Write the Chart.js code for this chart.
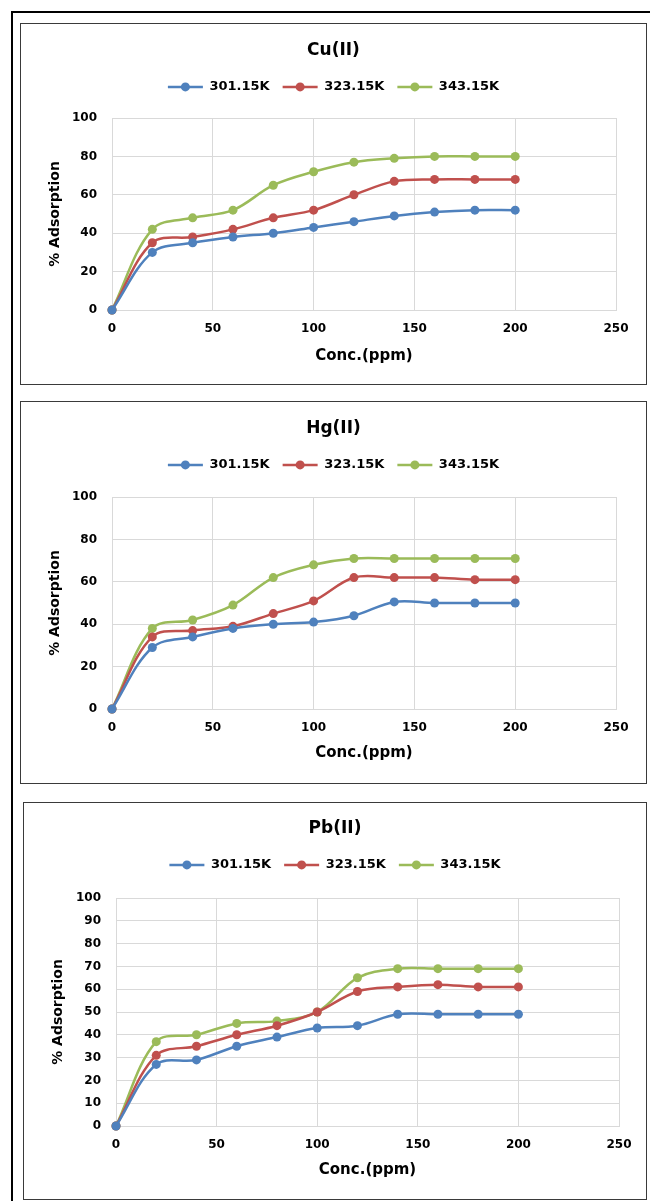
<!DOCTYPE html>
<html>
<head>
<meta charset="utf-8">
<script src="https://cdn.jsdelivr.net/npm/chart.js@4.4.1/dist/chart.umd.min.js"></script>
<style>
  html, body { margin: 0; padding: 0; background: #fff; }
  #page { position: relative; width: 650px; height: 1201px; overflow: hidden; background: #fff; }
  #outer { position: absolute; left: 11px; top: 11px; width: 700px; height: 1300px; border: 2px solid #000; box-sizing: border-box; }
  .frame { position: absolute; border: 1px solid #3a3a3a; box-sizing: border-box; background: #fff; }
  canvas { position: absolute; }
</style>
</head>
<body>
<div id="page">
  <div id="outer"></div>
  <div class="frame" style="left:20px; top:23px; width:627px; height:362px;"></div>
  <div class="frame" style="left:20px; top:401px; width:627px; height:383px;"></div>
  <div class="frame" style="left:23px; top:802px; width:624px; height:398px;"></div>
  <canvas id="cuChart" width="625" height="360" style="left:21px; top:24px;"></canvas>
  <canvas id="hgChart" width="625" height="381" style="left:21px; top:402px;"></canvas>
  <canvas id="pbChart" width="622" height="396" style="left:24px; top:803px;"></canvas>
</div>
<script>
// concentration (ppm) and temperatures
var conc = [0, 20, 40, 60, 80, 100, 120, 140, 160, 180, 200];
var temps = ['301.15K', '323.15K', '343.15K'];
var colors = ['#4F81BD', '#C0504D', '#9BBB59'];

// % adsorption, Cu(II)
var cu301 = [0, 30, 35, 38, 40, 43, 46, 49, 51, 52, 52];
var cu323 = [0, 35, 38, 42, 48, 52, 60, 67, 68, 68, 68];
var cu343 = [0, 42, 48, 52, 65, 72, 77, 79, 80, 80, 80];

// % adsorption, Hg(II)
var hg301 = [0, 29, 34, 38, 40, 41, 44, 50.5, 50, 50, 50];
var hg323 = [0, 34, 37, 39, 45, 51, 62, 62, 62, 61, 61];
var hg343 = [0, 38, 42, 49, 62, 68, 71, 71, 71, 71, 71];

// % adsorption, Pb(II)
var pb301 = [0, 27, 29, 35, 39, 43, 44, 49, 49, 49, 49];
var pb323 = [0, 31, 35, 40, 44, 50, 59, 61, 62, 61, 61];
var pb343 = [0, 37, 40, 45, 46, 50, 65, 69, 69, 69, 69];

var xMax = 250, xStep = 50;
var yMax = 100;

Chart.defaults.font.family = "'DejaVu Sans', sans-serif";
Chart.defaults.font.weight = 'bold';
Chart.defaults.color = '#000';

// circle in the middle of each legend line (Excel style marker)
var legendMarks = {
    id: 'legendMarks',
    afterDraw: function (chart) {
        var lg = chart.legend;
        if (!lg || !lg.legendHitBoxes) return;
        var ctx = chart.ctx;
        var bw = lg.options.labels.pointStyleWidth;
        lg.legendHitBoxes.forEach(function (hb, i) {
            ctx.save();
            ctx.fillStyle = chart.data.datasets[i].backgroundColor;
            ctx.beginPath();
            ctx.arc(hb.left + bw / 2, hb.top + hb.height / 2, 4.5, 0, Math.PI * 2);
            ctx.fill();
            ctx.restore();
        });
    }
};

function makeChart(id, title, series, yStep, lay) {
    var ctx = document.getElementById(id).getContext('2d');
    return new Chart(ctx, {
        type: 'line',
        data: {
            datasets: series.map(function (vals, i) {
                return {
                    label: temps[i],
                    data: conc.map(function (c, j) { return { x: c, y: vals[j] }; }),
                    borderColor: colors[i],
                    backgroundColor: colors[i],
                    borderWidth: 2.5,
                    pointRadius: 4.5,
                    pointBorderWidth: 0,
                    tension: 0.35,
                    clip: false,
                    xAxisID: 'x',
                    yAxisID: 'y'
                };
            })
        },
        options: {
            responsive: false,
            animation: false,
            layout: { padding: 0 },
            plugins: {
                title: {
                    display: true,
                    text: title,
                    font: { size: 17, weight: 'bold' },
                    padding: { top: lay.titleTop, bottom: 7 }
                },
                legend: {
                    position: 'top',
                    labels: {
                        usePointStyle: true,
                        pointStyle: 'line',
                        pointStyleWidth: 35,
                        font: { size: 13, weight: 'bold' },
                        padding: 13,
                        color: '#000',
                        generateLabels: function (chart) {
                            var items = Chart.defaults.plugins.legend.labels.generateLabels(chart);
                            items.forEach(function (it, i) {
                                it.lineWidth = 2.5;
                                it.strokeStyle = colors[i];
                            });
                            return items;
                        }
                    }
                },
                tooltip: { enabled: false }
            },
            scales: {
                x: {
                    type: 'linear',
                    min: 0,
                    max: xMax,
                    ticks: { stepSize: xStep, padding: 12, font: { size: 12 } },
                    grid: { color: '#d9d9d9', drawTicks: false },
                    border: { color: '#d9d9d9' },
                    title: {
                        display: true,
                        text: 'Conc.(ppm)',
                        font: { size: 15, weight: 'bold' },
                        padding: { top: 0, bottom: lay.xTitleBottom }
                    },
                    afterFit: function (s) { s.height = lay.xHeight; }
                },
                y: {
                    min: 0,
                    max: yMax,
                    ticks: { stepSize: yStep, padding: 15, font: { size: 12 } },
                    grid: { color: '#d9d9d9', drawTicks: false },
                    border: { color: '#d9d9d9' },
                    title: {
                        display: true,
                        text: '% Adsorption',
                        font: { size: 14, weight: 'bold' },
                        padding: { top: 25.6, bottom: 0 }
                    },
                    afterFit: function (s) { s.width = lay.yWidth; }
                },
                padTop: {
                    type: 'linear',
                    position: 'top',
                    grid: { display: false },
                    ticks: { display: false },
                    border: { display: false },
                    afterFit: function (s) { s.height = lay.topGap; }
                },
                padRight: {
                    type: 'linear',
                    position: 'right',
                    grid: { display: false },
                    ticks: { display: false },
                    border: { display: false },
                    afterFit: function (s) { s.width = lay.rightGap; }
                }
            }
        },
        plugins: [legendMarks]
    });
}

makeChart('cuChart', 'Cu(II)', [cu301, cu323, cu343], 20,
    { titleTop: 16, topGap: 14.6, xHeight: 74, xTitleBottom: 19, yWidth: 91, rightGap: 30 });
makeChart('hgChart', 'Hg(II)', [hg301, hg323, hg343], 20,
    { titleTop: 16, topGap: 15.6, xHeight: 74, xTitleBottom: 21, yWidth: 91, rightGap: 30 });
makeChart('pbChart', 'Pb(II)', [pb301, pb323, pb343], 10,
    { titleTop: 15, topGap: 16.6, xHeight: 73, xTitleBottom: 20, yWidth: 92, rightGap: 27 });
</script>
</body>
</html>
